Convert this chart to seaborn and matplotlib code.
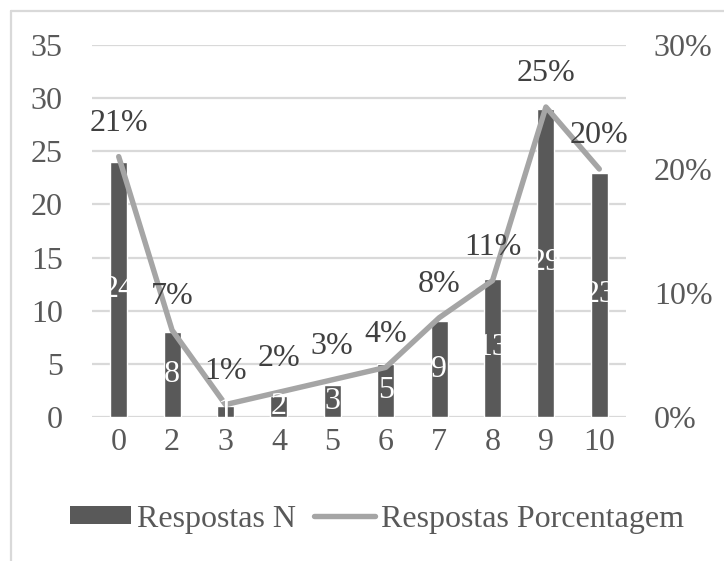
import matplotlib
matplotlib.use("Agg")
import matplotlib.pyplot as plt
from matplotlib.lines import Line2D
from matplotlib.patches import Patch
from matplotlib.ticker import FuncFormatter, MultipleLocator
import numpy as np
import pandas as pd
import seaborn as sns

# Survey scores and responses
notas = ["0", "2", "3", "4", "5", "6", "7", "8", "9", "10"]
respostas_n = [24, 8, 1, 2, 3, 5, 9, 13, 29, 23]
respostas_pct = [21, 7, 1, 2, 3, 4, 8, 11, 25, 20]

BAR_COLOR = "#595959"
LINE_COLOR = "#a5a5a5"
GRID_COLOR = "#d9d9d9"
TICK_COLOR = "#595959"
LABEL_COLOR = "#404040"
FS = 23

sns.set_theme(style="white")
plt.rcParams["font.family"] = ["Liberation Serif", "DejaVu Serif"]

df = pd.DataFrame({"nota": notas, "n": respostas_n,
                   "pct": [p / 100 for p in respostas_pct]})

fig = plt.figure(figsize=(7.24, 5.61), dpi=100)
ax = fig.add_axes([92 / 724, 1 - 417 / 561, (626 - 92) / 724, (417 - 45) / 561])

sns.barplot(data=df, x="nota", y="n", color=BAR_COLOR, width=0.32,
            saturation=1, ax=ax, zorder=2)
ax.set_xlim(-0.5, len(notas) - 0.5)
ax.set_ylim(0, 35)
ax.yaxis.set_major_locator(MultipleLocator(5))
ax.grid(axis="y", color=GRID_COLOR, linewidth=1.6, zorder=0)
ax.set_axisbelow(True)
ax.set_xlabel("")
ax.set_ylabel("")
for s in ax.spines.values():
    s.set_visible(False)
ax.tick_params(axis="both", length=0, labelsize=FS, colors=TICK_COLOR)
ax.tick_params(axis="x", pad=8)
ax.tick_params(axis="y", pad=21)

ax2 = ax.twinx()
x_pos = np.arange(len(notas))
sns.lineplot(x=x_pos, y=df["pct"], ax=ax2, color=LINE_COLOR, linewidth=3.9,
             solid_capstyle="round", solid_joinstyle="round")
ax2.set_ylim(0, 0.30)
ax2.yaxis.set_major_locator(MultipleLocator(0.10))
ax2.yaxis.set_major_formatter(FuncFormatter(lambda v, _: f"{v * 100:.0f}%"))
ax2.set_ylabel("")
for s in ax2.spines.values():
    s.set_visible(False)
ax2.tick_params(axis="y", length=0, labelsize=FS, colors=TICK_COLOR, pad=20)

# Percentage labels above the line
for xi, p in zip(x_pos, respostas_pct):
    ax2.annotate(f"{p}%", (xi, p / 100), xytext=(0, 24), textcoords="offset points",
                 ha="center", va="center", fontsize=FS, color=LABEL_COLOR)

# Count labels centred in each bar, drawn over the line
for xi, n in zip(x_pos, respostas_n):
    ax2.text(xi, n / 2, str(n), transform=ax.transData, ha="center", va="center",
             fontsize=FS, color="white", zorder=5)

handles = [Patch(facecolor=BAR_COLOR, edgecolor="none"),
           Line2D([0], [0], color=LINE_COLOR, linewidth=3.9, solid_capstyle="round")]
fig.legend(handles, ["Respostas N", "Respostas Porcentagem"], loc="center",
           bbox_to_anchor=(377 / 724, 1 - 519 / 561), ncol=2, frameon=False,
           fontsize=FS, handlelength=1.9, handleheight=0.5, handletextpad=0.19,
           columnspacing=0.56, labelcolor=TICK_COLOR, borderaxespad=0)

# Light chart-area border along the top and left edges
fig.add_artist(Line2D([11 / 724, 11 / 724], [0, 1 - 11 / 561],
                      color=GRID_COLOR, linewidth=1.6, transform=fig.transFigure))
fig.add_artist(Line2D([11 / 724, 1], [1 - 11 / 561, 1 - 11 / 561],
                      color=GRID_COLOR, linewidth=1.6, transform=fig.transFigure))

fig.savefig("out.png", dpi=100)
